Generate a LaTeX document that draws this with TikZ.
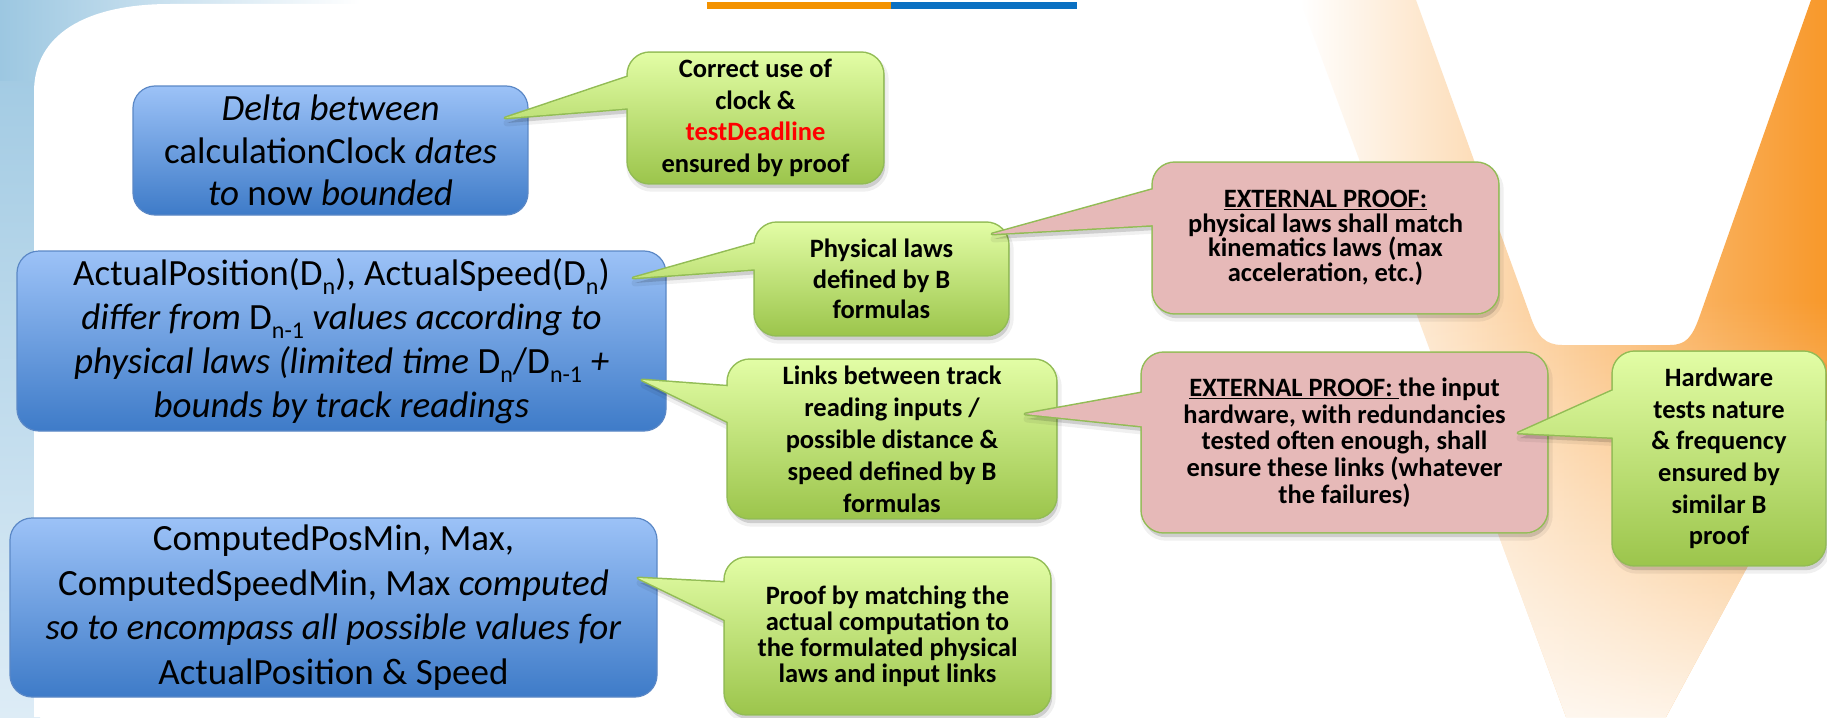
\documentclass[tikz,border=0pt]{standalone}
\usepackage{fontspec}
\setmainfont{Carlito}
\usetikzlibrary{calc,fadings}
\pgfdeclarelayer{pagebg}
\pgfdeclarelayer{boxes}
\pgfdeclarelayer{shapes}
\pgfsetlayers{pagebg,boxes,shapes,main}
\tikzfading[name=fadeup, top color=transparent!100, bottom color=transparent!0]
\definecolor{lbTop}{HTML}{9CC7E1}
\definecolor{lbBot}{HTML}{DDECF6}
\definecolor{peachM}{HTML}{FDE4C9}
\definecolor{orangeR}{HTML}{F8982A}
\definecolor{barOrange}{HTML}{F39200}
\definecolor{barBlue}{HTML}{0A70C2}
\definecolor{blueTop}{HTML}{9CC2F7}
\definecolor{blueBot}{HTML}{3E7BC8}
\definecolor{blueEdge}{HTML}{5B88C6}
\definecolor{greenTop}{HTML}{E2FDA5}
\definecolor{greenBot}{HTML}{9CC54C}
\definecolor{greenEdge}{HTML}{92BC55}
\definecolor{pinkFill}{HTML}{E6B9B8}
\definecolor{redText}{HTML}{FF0000}
\newcommand\lowsub[1]{\raisebox{-0.26em}{\upshape\fontsize{24}{24}\selectfont #1}}
\tikzset{
  bluebox/.style={rounded corners=22pt, draw=blueEdge, line width=1.2pt,
    top color=blueTop, bottom color=blueBot, align=center, inner sep=0pt},
  ctext/.style={inner sep=0pt, align=center},
  greenfill/.style={top color=greenTop, bottom color=greenBot},
  pinkfill/.style={fill=pinkFill},
}
% #1 node, #2 base top offset, #3 base bottom offset, #4 tip, #5 fill style
\newcommand\callout[5]{%
  \begin{pgfonlayer}{shapes}
  \path[transform canvas={shift={(2pt,-5pt)}}, draw=black, draw opacity=0.06, line width=7pt, line join=round, rounded corners=22pt]
    (#1.north west) -- (#1.north east) -- (#1.south east) -- (#1.south west) -- cycle
    [sharp corners] ($(#1.north west)+(6,#3)$) -- (#4) -- ($(#1.north west)+(6,#2)$) -- cycle;
  \path[transform canvas={shift={(2pt,-5pt)}}, fill=black, fill opacity=0.14, rounded corners=22pt]
    (#1.north west) -- (#1.north east) -- (#1.south east) -- (#1.south west) -- cycle
    [sharp corners] ($(#1.north west)+(6,#3)$) -- (#4) -- ($(#1.north west)+(6,#2)$) -- cycle;
  \path[draw=greenEdge, line width=3pt, line join=round, rounded corners=22pt]
    (#1.north west) -- (#1.north east) -- (#1.south east) -- (#1.south west) -- cycle
    [sharp corners] ($(#1.north west)+(6,#3)$) -- (#4) -- ($(#1.north west)+(6,#2)$) -- cycle;
  \path[#5, rounded corners=22pt]
    (#1.north west) -- (#1.north east) -- (#1.south east) -- (#1.south west) -- cycle
    [sharp corners] ($(#1.north west)+(6,#3)$) -- (#4) -- ($(#1.north west)+(6,#2)$) -- cycle;
  \end{pgfonlayer}}
\begin{document}
\begin{tikzpicture}[x=1pt,y=-1pt]
\useasboundingbox (0,0) rectangle (1827,717);
% ---------- page background ----------
\begin{pgfonlayer}{pagebg}
\fill[white] (0,0) rectangle (1827,717);
\shade[top color=lbTop, bottom color=lbBot] (0,0) rectangle (40,717);
\shade[left color=lbTop, right color=white] (0,0) rectangle (360,80);
\fill[white] (34,717) -- (34,92) .. controls (34,35) and (85,4) .. (170,4) -- (1827,4) -- (1827,717) -- cycle;
\begin{scope}
\clip (1300,0) -- (1416,0) -- (1530,315) .. controls (1537,336) and (1545,345) .. (1562,345)
  -- (1670,345) .. controls (1686,345) and (1692,337) .. (1699,318) -- (1811,0) -- (1827,0)
  -- (1827,420) -- (1666,717) -- (1566,717) -- cycle;
\shade[left color=white, middle color=peachM, right color=orangeR] (1300,0) rectangle (1827,717);
\fill[white, path fading=fadeup, fill opacity=0.85] (1300,300) rectangle (1827,717);
\end{scope}
\fill[barOrange] (707,2) rectangle (891,9);
\fill[barBlue] (891,2) rectangle (1077,9);
\end{pgfonlayer}
% ---------- blue statement boxes ----------
\begin{pgfonlayer}{boxes}
\node[bluebox, minimum width=395pt, minimum height=129pt, font=\fontsize{37}{42.5}\selectfont] (b1) at (330.5,150.5)
  {\textit{Delta between}\\calculationClock \textit{dates}\\\textit{to} now \textit{bounded}};
\node[bluebox, minimum width=649pt, minimum height=180pt, font=\fontsize{37}{44}\selectfont] (b2) at (341.5,341)
  {ActualPosition(D\lowsub{n}), ActualSpeed(D\lowsub{n})\\
   \textit{differ from} D\lowsub{n-1} \textit{values according to}\\
   \textit{physical laws (limited time} D\lowsub{n}/D\lowsub{n-1} \textit{+}\\
   \textit{bounds by track readings}};
\node[bluebox, minimum width=647pt, minimum height=179pt, font=\fontsize{37}{44.5}\selectfont] (b3) at (333.5,607.5)
  {ComputedPosMin, Max,\\
   ComputedSpeedMin, Max \textit{computed}\\
   \textit{so to encompass all possible values for}\\
   ActualPosition \& Speed};
\end{pgfonlayer}
% ---------- callout texts ----------
\node[ctext, minimum width=255pt, minimum height=130pt, font=\bfseries\fontsize{26.5}{31.7}\selectfont] (g1) at (755.5,118)
  {Correct use of\\clock \&\\\textcolor{redText}{testDeadline}\\ensured by proof};
\node[ctext, minimum width=253pt, minimum height=112pt, font=\bfseries\fontsize{26.5}{30.5}\selectfont] (g2) at (881.5,279)
  {Physical laws\\defined by B\\formulas};
\node[ctext, minimum width=345pt, minimum height=150pt, font=\bfseries\fontsize{26.5}{24.5}\selectfont] (p1) at (1325.5,238)
  {\underline{EXTERNAL PROOF:}\\physical laws shall match\\kinematics laws (max\\acceleration, etc.)};
\node[ctext, minimum width=328pt, minimum height=158pt, font=\bfseries\fontsize{26.5}{32}\selectfont] (g3) at (892,439)
  {Links between track\\reading inputs /\\possible distance \&\\speed defined by B\\formulas};
\node[ctext, minimum width=405pt, minimum height=179pt, font=\bfseries\fontsize{26.5}{26.7}\selectfont] (p2) at (1344.5,442.5)
  {\underline{EXTERNAL PROOF:\ }the input\\hardware, with redundancies\\tested often enough, shall\\ensure these links (whatever\\the failures)};
\node[ctext, minimum width=212pt, minimum height=213pt, font=\bfseries\fontsize{26.5}{31.7}\selectfont] (g4) at (1719,458.5)
  {Hardware\\tests nature\\\& frequency\\ensured by\\similar B\\proof};
\node[ctext, minimum width=325pt, minimum height=156pt, font=\bfseries\fontsize{26.5}{26}\selectfont] (g5) at (887.5,636)
  {Proof by matching the\\actual computation to\\the formulated physical\\laws and input links};
% ---------- pointer tips ----------
\coordinate (t1) at (505,118);
\coordinate (t2) at (633,278);
\coordinate (t3) at (992,234);
\coordinate (t4) at (642,380);
\coordinate (t5) at (1025,414);
\coordinate (t6) at (1518,433);
\coordinate (t7) at (638,578);
% ---------- callout shapes ----------
\callout{g1}{22}{55}{t1}{greenfill}
\callout{g2}{19}{46}{t2}{greenfill}
\callout{p1}{25}{62}{t3}{pinkfill}
\callout{g3}{27}{65}{t4}{greenfill}
\callout{p2}{39}{74}{t5}{pinkfill}
\callout{g4}{36}{86}{t6}{greenfill}
\callout{g5}{25}{65}{t7}{greenfill}
\end{tikzpicture}
\end{document}
